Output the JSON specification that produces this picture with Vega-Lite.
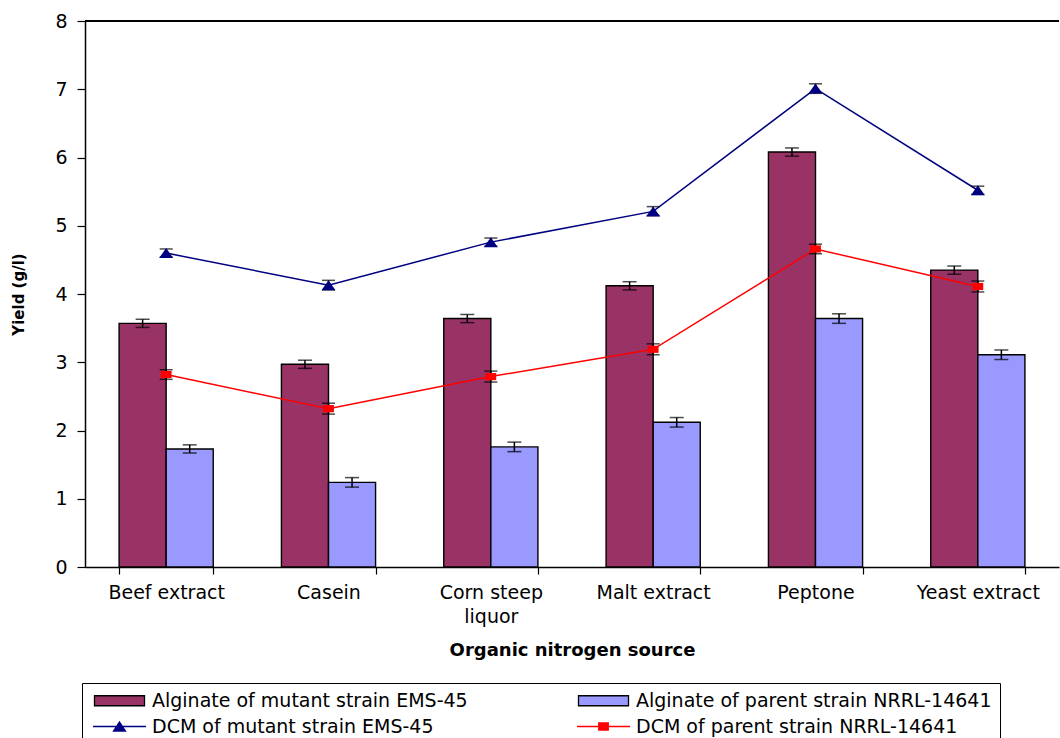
{
  "$schema": "https://vega.github.io/schema/vega-lite/v6.json",
  "width": 974,
  "height": 546,
  "autosize": {"type": "none"},
  "padding": {"left": 85, "top": 21, "right": 1, "bottom": 171},
  "background": "white",
  "config": {
    "view": {"stroke": null},
    "font": "DejaVu Sans",
    "axis": {"labelFont": "DejaVu Sans", "titleFont": "DejaVu Sans", "labelColor": "black", "titleColor": "black", "domainColor": "black", "tickColor": "black", "domainWidth": 1.5, "tickWidth": 1.2, "grid": false}
  },
  "data": {
    "values": [
      {"source": "Beef extract", "series": "Alginate of mutant strain EMS-45", "value": 3.57, "lo": 3.51, "hi": 3.63},
      {"source": "Beef extract", "series": "Alginate of parent strain NRRL-14641", "value": 1.73, "lo": 1.67, "hi": 1.79},
      {"source": "Beef extract", "series": "DCM of mutant strain EMS-45", "value": 4.6, "lo": 4.54, "hi": 4.66},
      {"source": "Beef extract", "series": "DCM of parent strain NRRL-14641", "value": 2.82, "lo": 2.75, "hi": 2.89},
      {"source": "Casein", "series": "Alginate of mutant strain EMS-45", "value": 2.97, "lo": 2.91, "hi": 3.03},
      {"source": "Casein", "series": "Alginate of parent strain NRRL-14641", "value": 1.24, "lo": 1.17, "hi": 1.31},
      {"source": "Casein", "series": "DCM of mutant strain EMS-45", "value": 4.13, "lo": 4.06, "hi": 4.2},
      {"source": "Casein", "series": "DCM of parent strain NRRL-14641", "value": 2.32, "lo": 2.24, "hi": 2.4},
      {"source": "Corn steep liquor", "series": "Alginate of mutant strain EMS-45", "value": 3.64, "lo": 3.58, "hi": 3.7},
      {"source": "Corn steep liquor", "series": "Alginate of parent strain NRRL-14641", "value": 1.76, "lo": 1.69, "hi": 1.83},
      {"source": "Corn steep liquor", "series": "DCM of mutant strain EMS-45", "value": 4.76, "lo": 4.7, "hi": 4.82},
      {"source": "Corn steep liquor", "series": "DCM of parent strain NRRL-14641", "value": 2.79, "lo": 2.71, "hi": 2.87},
      {"source": "Malt extract", "series": "Alginate of mutant strain EMS-45", "value": 4.12, "lo": 4.06, "hi": 4.18},
      {"source": "Malt extract", "series": "Alginate of parent strain NRRL-14641", "value": 2.12, "lo": 2.05, "hi": 2.19},
      {"source": "Malt extract", "series": "DCM of mutant strain EMS-45", "value": 5.21, "lo": 5.15, "hi": 5.28},
      {"source": "Malt extract", "series": "DCM of parent strain NRRL-14641", "value": 3.19, "lo": 3.11, "hi": 3.27},
      {"source": "Peptone", "series": "Alginate of mutant strain EMS-45", "value": 6.08, "lo": 6.02, "hi": 6.14},
      {"source": "Peptone", "series": "Alginate of parent strain NRRL-14641", "value": 3.64, "lo": 3.57, "hi": 3.71},
      {"source": "Peptone", "series": "DCM of mutant strain EMS-45", "value": 7.01, "lo": 6.94, "hi": 7.08},
      {"source": "Peptone", "series": "DCM of parent strain NRRL-14641", "value": 4.66, "lo": 4.59, "hi": 4.73},
      {"source": "Yeast extract", "series": "Alginate of mutant strain EMS-45", "value": 4.35, "lo": 4.29, "hi": 4.41},
      {"source": "Yeast extract", "series": "Alginate of parent strain NRRL-14641", "value": 3.11, "lo": 3.04, "hi": 3.18},
      {"source": "Yeast extract", "series": "DCM of mutant strain EMS-45", "value": 5.52, "lo": 5.46, "hi": 5.58},
      {"source": "Yeast extract", "series": "DCM of parent strain NRRL-14641", "value": 4.11, "lo": 4.03, "hi": 4.19}
    ]
  },
  "encoding": {
    "x": {
      "field": "source", "type": "nominal",
      "scale": {"domain": ["Beef extract", "Casein", "Corn steep liquor", "Malt extract", "Peptone", "Yeast extract"], "paddingInner": 0.42, "paddingOuter": 0.21},
      "axis": {
        "title": "Organic nitrogen source", "titleFontSize": 18, "titleFontWeight": "bold", "titlePadding": 15,
        "labelAngle": 0, "labelFontSize": 19, "labelPadding": 9, "labelLineHeight": 24, "tickBand": "extent", "tickSize": 7,
        "labelExpr": "datum.value == 'Corn steep liquor' ? ['Corn steep', 'liquor'] : datum.value"
      }
    }
  },
  "layer": [
    {
      "mark": {"type": "rule", "color": "black", "strokeWidth": 1.5},
      "encoding": {"x": null, "y": {"datum": 8}}
    },
    {
      "mark": {"type": "point", "filled": true, "opacity": 0, "size": 100, "strokeWidth": 1.3},
      "encoding": {
        "y": {"field": "value", "type": "quantitative"},
        "color": {
          "field": "series", "type": "nominal",
          "scale": {"domain": ["Alginate of mutant strain EMS-45", "Alginate of parent strain NRRL-14641", "DCM of mutant strain EMS-45", "DCM of parent strain NRRL-14641"], "range": ["#993366", "#9999FF", "#000080", "#FF0000"]},
          "legend": {
            "title": null, "orient": "none", "legendX": -3, "legendY": 662, "columns": 2, "direction": "horizontal",
            "strokeColor": "black", "padding": 8, "columnPadding": 106, "rowPadding": 6,
            "labelFontSize": 19, "labelFont": "DejaVu Sans", "labelColor": "black", "labelLimit": 500,
            "symbolSize": 100, "symbolOffset": 20, "labelOffset": 23, "symbolOpacity": 1, "symbolStrokeWidth": 1.3
          }
        },
        "shape": {
          "field": "series", "type": "nominal",
          "scale": {"domain": ["Alginate of mutant strain EMS-45", "Alginate of parent strain NRRL-14641", "DCM of mutant strain EMS-45", "DCM of parent strain NRRL-14641"], "range": ["M-5,-1H5V1H-5Z", "M-5,-1H5V1H-5Z", "M-5.3,0H5.3M0,-0.9L1.2,0.9L-1.2,0.9Z", "M-5.3,0H5.3M-0.95,-0.7H0.95V0.7H-0.95Z"]},
          "legend": {
            "title": null, "orient": "none", "legendX": -3, "legendY": 662, "columns": 2, "direction": "horizontal",
            "strokeColor": "black", "padding": 8, "columnPadding": 106, "rowPadding": 6,
            "labelFontSize": 19, "labelFont": "DejaVu Sans", "labelColor": "black", "labelLimit": 500,
            "symbolSize": 100, "symbolOffset": 20, "labelOffset": 23, "symbolOpacity": 1, "symbolStrokeWidth": 1.3
          }
        },
        "stroke": {
          "field": "series", "type": "nominal",
          "scale": {"domain": ["Alginate of mutant strain EMS-45", "Alginate of parent strain NRRL-14641", "DCM of mutant strain EMS-45", "DCM of parent strain NRRL-14641"], "range": ["black", "black", "#000080", "#FF0000"]},
          "legend": {
            "title": null, "orient": "none", "legendX": -3, "legendY": 662, "columns": 2, "direction": "horizontal",
            "strokeColor": "black", "padding": 8, "columnPadding": 106, "rowPadding": 6,
            "labelFontSize": 19, "labelFont": "DejaVu Sans", "labelColor": "black", "labelLimit": 500,
            "symbolSize": 100, "symbolOffset": 20, "labelOffset": 23, "symbolOpacity": 1, "symbolStrokeWidth": 1.3
          }
        }
      }
    },
    {
      "transform": [{"filter": "indexof(datum.series, 'Alginate') == 0"}],
      "mark": {"type": "bar", "stroke": "black", "strokeWidth": 1.4},
      "encoding": {
        "xOffset": {"field": "series", "type": "nominal", "scale": {"domain": ["Alginate of mutant strain EMS-45", "Alginate of parent strain NRRL-14641"], "paddingInner": 0, "paddingOuter": 0}},
        "y": {
          "field": "value", "type": "quantitative",
          "scale": {"domain": [0, 8], "nice": false},
          "axis": {"title": "Yield (g/l)", "titleFontSize": 15, "titleFontWeight": "bold", "titlePadding": 28, "values": [0, 1, 2, 3, 4, 5, 6, 7, 8], "format": "d", "labelFontSize": 19, "labelPadding": 10, "tickSize": 8}
        },
        "fill": {"field": "series", "type": "nominal", "scale": {"domain": ["Alginate of mutant strain EMS-45", "Alginate of parent strain NRRL-14641"], "range": ["#993366", "#9999FF"]}, "legend": null}
      }
    },
    {
      "transform": [{"filter": "indexof(datum.series, 'Alginate') == 0"}],
      "mark": {"type": "rule", "color": "black", "strokeWidth": 1.5},
      "encoding": {
        "xOffset": {"field": "series", "type": "nominal"},
        "y": {"field": "lo", "type": "quantitative"},
        "y2": {"field": "hi"}
      }
    },
    {
      "transform": [{"filter": "indexof(datum.series, 'Alginate') == 0"}],
      "mark": {"type": "tick", "color": "black", "size": 14, "thickness": 1.5},
      "encoding": {
        "xOffset": {"field": "series", "type": "nominal"},
        "y": {"field": "lo", "type": "quantitative"}
      }
    },
    {
      "transform": [{"filter": "indexof(datum.series, 'Alginate') == 0"}],
      "mark": {"type": "tick", "color": "black", "size": 14, "thickness": 1.5},
      "encoding": {
        "xOffset": {"field": "series", "type": "nominal"},
        "y": {"field": "hi", "type": "quantitative"}
      }
    },
    {
      "transform": [{"filter": "datum.series == 'DCM of mutant strain EMS-45'"}],
      "mark": {"type": "line", "strokeWidth": 1.5, "color": "#000080"},
      "encoding": {"y": {"field": "value", "type": "quantitative"}}
    },
    {
      "transform": [{"filter": "datum.series == 'DCM of parent strain NRRL-14641'"}],
      "mark": {"type": "line", "strokeWidth": 1.5, "color": "#FF0000"},
      "encoding": {"y": {"field": "value", "type": "quantitative"}}
    },
    {
      "transform": [{"filter": "indexof(datum.series, 'DCM') == 0"}],
      "mark": {"type": "rule", "color": "black", "strokeWidth": 1.5},
      "encoding": {
        "y": {"field": "lo", "type": "quantitative"},
        "y2": {"field": "hi"}
      }
    },
    {
      "transform": [{"filter": "indexof(datum.series, 'DCM') == 0"}],
      "mark": {"type": "tick", "color": "black", "size": 13, "thickness": 1.5},
      "encoding": {"y": {"field": "lo", "type": "quantitative"}}
    },
    {
      "transform": [{"filter": "indexof(datum.series, 'DCM') == 0"}],
      "mark": {"type": "tick", "color": "black", "size": 13, "thickness": 1.5},
      "encoding": {"y": {"field": "hi", "type": "quantitative"}}
    },
    {
      "transform": [{"filter": "datum.series == 'DCM of mutant strain EMS-45'"}],
      "mark": {"type": "point", "filled": true, "opacity": 1, "size": 100, "shape": "M0,-1L1.4,1L-1.4,1Z", "color": "#000080"},
      "encoding": {"y": {"field": "value", "type": "quantitative"}}
    },
    {
      "transform": [{"filter": "datum.series == 'DCM of parent strain NRRL-14641'"}],
      "mark": {"type": "point", "filled": true, "opacity": 1, "size": 81, "shape": "M-1.2,-0.8H1.2V0.8H-1.2Z", "color": "#FF0000"},
      "encoding": {"y": {"field": "value", "type": "quantitative"}}
    }
  ]
}
